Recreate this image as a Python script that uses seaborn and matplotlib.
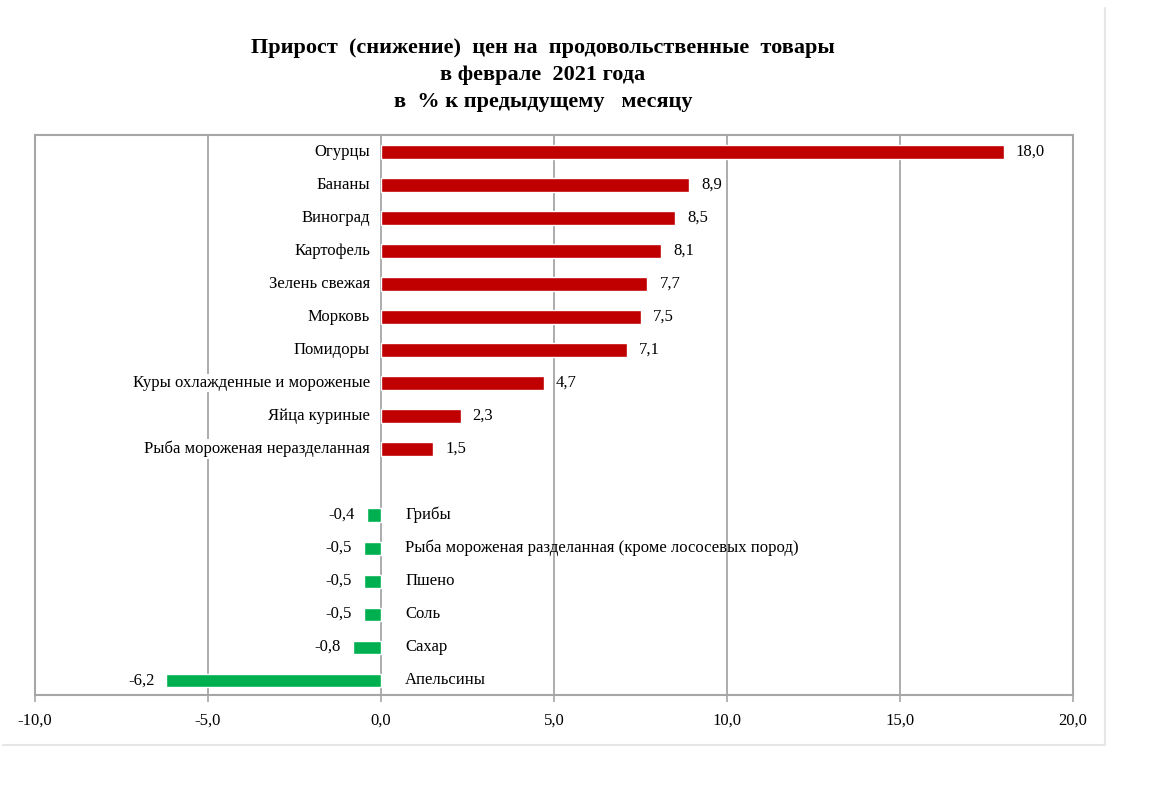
import matplotlib
matplotlib.use("Agg")
import matplotlib.pyplot as plt
import seaborn as sns
import pandas as pd
from matplotlib.lines import Line2D

categories = ["Огурцы", "Бананы", "Виноград", "Картофель", "Зелень свежая", "Морковь",
              "Помидоры", "Куры охлажденные и мороженые", "Яйца куриные",
              "Рыба мороженая неразделанная",
              "Грибы", "Рыба мороженая разделанная (кроме лососевых пород)",
              "Пшено", "Соль", "Сахар", "Апельсины"]
values = [18.0, 8.9, 8.5, 8.1, 7.7, 7.5, 7.1, 4.7, 2.3, 1.5,
          -0.4, -0.5, -0.5, -0.5, -0.8, -6.2]
x_ticks = [-10, -5, 0, 5, 10, 15, 20]
title = "Прирост  (снижение)  цен на  продовольственные  товары\nв феврале  2021 года\nв  % к предыдущему   месяцу"

sns.set_theme(style="white")
plt.rcParams['font.family'] = ['Liberation Serif', 'DejaVu Serif']
plt.rcParams['text.color'] = 'black'
plt.rcParams['xtick.color'] = 'black'

df = pd.DataFrame({"cat": categories, "val": values})
df["sign"] = ["pos" if v >= 0 else "neg" for v in values]
order = categories[:10] + [" "] + categories[10:]

fig = plt.figure(figsize=(11.56, 8.07), dpi=100)
ax = fig.add_axes([35/1156, 1-695/807, (1073-35)/1156, (695-135)/807])

sns.barplot(data=df, x="val", y="cat", hue="sign", order=order,
            palette={"pos": "#C00000", "neg": "#00B050"}, width=0.4,
            dodge=False, legend=False, ax=ax, orient="h", saturation=1)

ax.set_xlim(-10, 20)
ax.set_ylim(16.45, -0.515)
ax.set_xticks(x_ticks)
ax.set_xticklabels([f"{t:.1f}".replace(".", ",") for t in x_ticks], fontsize=12)
ax.set_yticks([])
ax.set_xlabel("")
ax.set_ylabel("")
for t in x_ticks[1:-1]:
    ax.axvline(t, color="#a6a6a6", lw=1.3, zorder=0)
for s in ax.spines.values():
    s.set_color("#a6a6a6")
    s.set_linewidth(1.5)
ax.tick_params(axis="x", bottom=True, length=5, width=1.2, color="#a6a6a6", pad=8,
               labelcolor="black")

pos_y = {c: i for i, c in enumerate(order)}
for c, v in zip(categories, values):
    y = pos_y[c]
    if v >= 0:
        ax.text(-0.32, y, c, ha="right", va="center", fontsize=12, color="black",
                bbox=dict(facecolor="white", edgecolor="none", pad=1), zorder=3)
        ax.text(v + 0.35, y, f"{v:.1f}".replace(".", ","), ha="left", va="center",
                fontsize=12, color="black")
    else:
        ax.text(0.7, y, c, ha="left", va="center", fontsize=12, color="black")
        ax.text(v - 0.35, y, f"{v:.1f}".replace(".", ","), ha="right", va="center",
                fontsize=12, color="black")

fig.text(543/1156, 1-75/807, title, ha="center", va="center", fontsize=16,
         fontweight="bold", linespacing=1.5, color="black")

fig.add_artist(Line2D([1105/1156, 1105/1156], [1-745/807, 1-8/807], color="#e6e6e6", lw=1.5))
fig.add_artist(Line2D([3/1156, 1105/1156], [1-745/807, 1-745/807], color="#e6e6e6", lw=1.5))

fig.savefig("out.png", dpi=100, facecolor="white")
